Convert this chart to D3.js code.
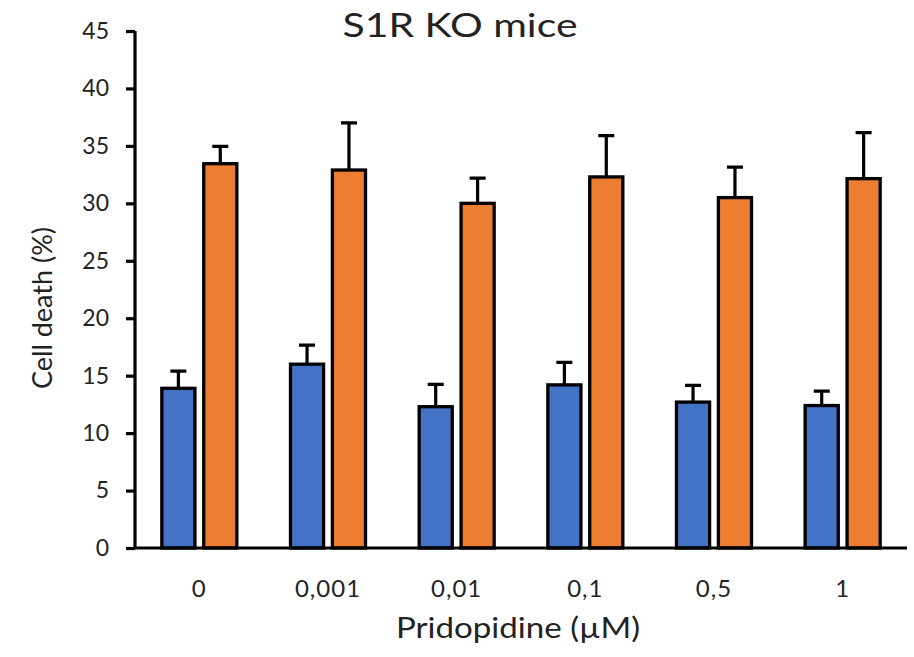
<!DOCTYPE html>
<html>
<head>
<meta charset="utf-8">
<script src="https://cdn.jsdelivr.net/npm/d3@7"></script>
<style>
  body { margin: 0; background: #fff; }
  svg text { font-family: Lato, "Open Sans", sans-serif; fill: #222; }
</style>
</head>
<body>
<div id="chart"></div>
<script>
// data
const doses = ['0', '0,001', '0,01', '0,1', '0,5', '1'];
const series = ['control', 'treated'];
const controlMean = [13.9, 16.0, 12.3, 14.2, 12.7, 12.4];
const controlErr = [1.5, 1.65, 1.95, 1.95, 1.45, 1.25];
const treatedMean = [33.45, 32.9, 30.0, 32.3, 30.5, 32.15];
const treatedErr = [1.5, 4.1, 2.2, 3.6, 2.65, 4.0];
const yTicks = [0, 5, 10, 15, 20, 25, 30, 35, 40, 45];
const colors = ['#4472C4', '#ED7D31'];

const W = 914, H = 657;
const margin = { top: 31, right: 7, bottom: 109, left: 135 };

let rows = doses.map((d, i) => ({
  dose: d,
  values: [
    { s: 'control', v: controlMean[i], e: controlErr[i] },
    { s: 'treated', v: treatedMean[i], e: treatedErr[i] }
  ]
}));

let svg = d3.select('#chart').append('svg')
    .attr('width', W)
    .attr('height', H);

let x0 = d3.scaleBand()
    .domain(doses)
    .range([margin.left, W - margin.right]);

let x1 = d3.scaleBand()
    .domain(series)
    .range([0, x0.bandwidth()])
    .paddingInner(0.21)
    .paddingOuter(0.64);

let y = d3.scaleLinear()
    .domain([0, 45])
    .range([H - margin.bottom, margin.top]);

// y axis
let yAxis = svg.append('g')
    .attr('transform', `translate(${margin.left},0)`)
    .call(d3.axisLeft(y).tickValues(yTicks).tickSize(9).tickPadding(17));
yAxis.select('.domain').attr('stroke', '#000').attr('stroke-width', 3.2)
    .attr('d', `M0,${y(45)}V${y(0)}`);
yAxis.selectAll('.tick line').attr('stroke', '#000').attr('stroke-width', 3.2);
yAxis.selectAll('.tick text')
    .style('font-size', '23px')
    .style('font-family', 'Lato, sans-serif')
    .attr('fill', '#222');

// groups
let group = svg.append('g').selectAll('g')
    .data(rows)
    .enter().append('g')
    .attr('transform', (d) => `translate(${x0(d.dose)},0)`);

// error bars (upper only)
group.selectAll('.err')
    .data((d) => d.values)
    .enter().append('path')
    .attr('class', 'err')
    .attr('fill', 'none')
    .attr('stroke', '#000')
    .attr('stroke-width', 3.2)
    .attr('d', (d) => {
      let cx = x1(d.s) + x1.bandwidth() / 2;
      let top = y(d.v + d.e);
      return `M${cx},${y(d.v)}V${top}M${cx - 8},${top}H${cx + 8}`;
    });

// bars
group.selectAll('rect')
    .data((d) => d.values)
    .enter().append('rect')
    .attr('x', (d) => x1(d.s))
    .attr('y', (d) => y(d.v))
    .attr('width', x1.bandwidth())
    .attr('height', (d) => y(0) - y(d.v))
    .attr('fill', (d, i) => colors[i])
    .attr('stroke', '#000')
    .attr('stroke-width', 3.3);

// x axis
svg.append('line')
    .attr('x1', margin.left)
    .attr('x2', W - margin.right)
    .attr('y1', y(0))
    .attr('y2', y(0))
    .attr('stroke', '#000')
    .attr('stroke-width', 3.2);

svg.append('g').selectAll('text')
    .data(doses)
    .enter().append('text')
    .attr('x', (d) => x0(d) + x0.bandwidth() / 2)
    .attr('y', 597)
    .attr('text-anchor', 'middle')
    .style('font-size', '24px')
    .style('letter-spacing', '1px')
    .text((d) => d);

// titles
svg.append('text')
    .attr('x', 460)
    .attr('y', 37)
    .attr('text-anchor', 'middle')
    .attr('textLength', 235)
    .attr('lengthAdjust', 'spacingAndGlyphs')
    .style('font-size', '33px')
    .attr('fill', '#000')
    .text('S1R KO mice');

svg.append('text')
    .attr('x', 518)
    .attr('y', 638)
    .attr('text-anchor', 'middle')
    .attr('textLength', 244)
    .attr('lengthAdjust', 'spacingAndGlyphs')
    .style('font-size', '28px')
    .text('Pridopidine (µM)');

svg.append('text')
    .attr('transform', 'translate(52,308) rotate(-90)')
    .attr('text-anchor', 'middle')
    .style('font-size', '27px')
    .text('Cell death (%)');
</script>
</body>
</html>
